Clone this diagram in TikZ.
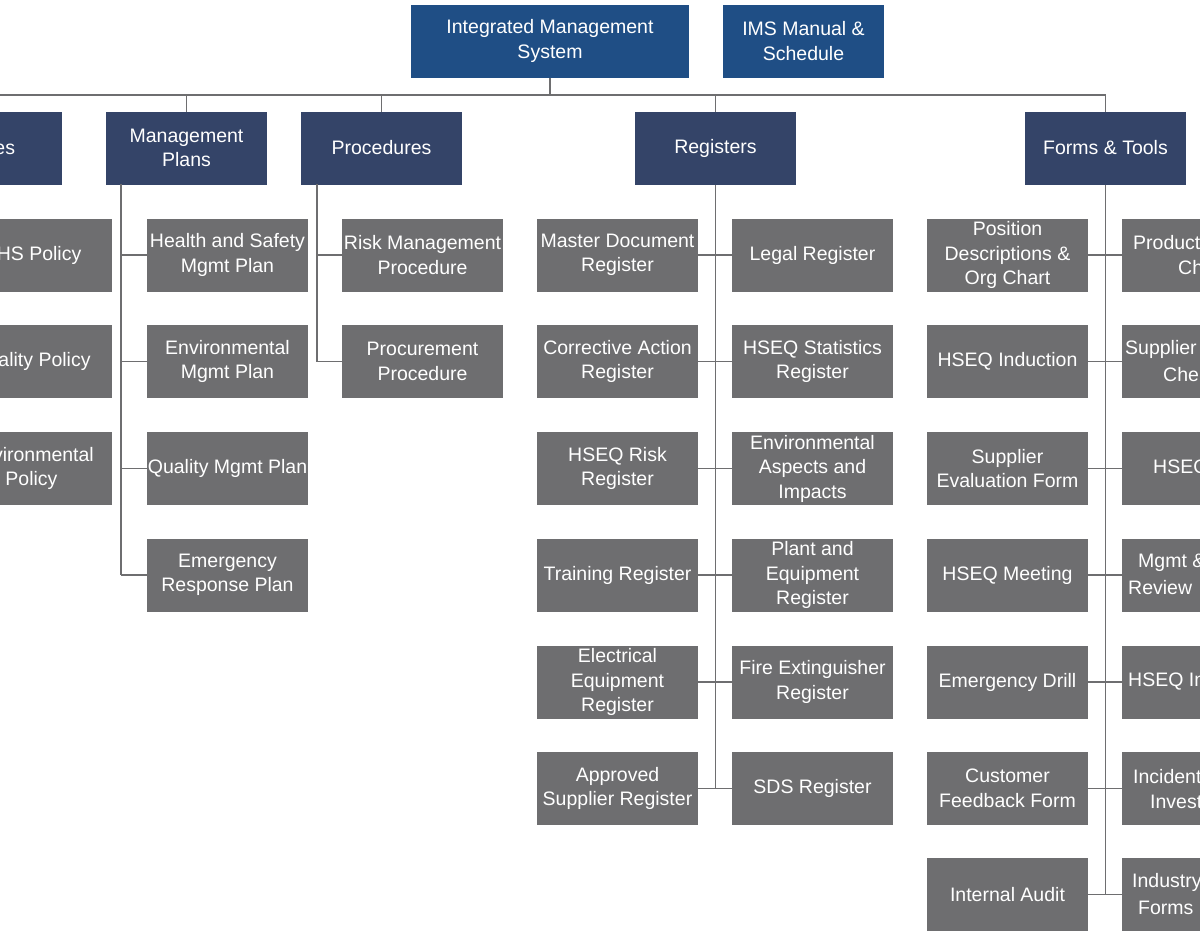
\documentclass[tikz,border=0pt]{standalone}
\usepackage{fontspec}
\setmainfont{Liberation Sans}
\definecolor{topblue}{HTML}{1F4E85}
\definecolor{navy}{HTML}{344468}
\definecolor{boxgray}{HTML}{6E6E70}
\definecolor{linegray}{HTML}{6E6E70}
\begin{document}
\begin{tikzpicture}[x=1pt,y=-1pt,
  base/.style={inner sep=0pt,outer sep=0pt,text=white,align=center,font=\fontsize{19.5}{24.5}\selectfont,minimum height=73pt},
  top/.style={base,fill=topblue},
  head/.style={base,fill=navy,minimum width=161pt},
  item/.style={base,fill=boxgray,minimum width=161pt},
  frag/.style={inner sep=0pt,text=white,anchor=west,font=\fontsize{19.5}{24.5}\selectfont},
  conn/.style={draw=linegray,line width=1.8pt}]
\useasboundingbox (0,0) rectangle (1200,937);
\clip (0,0) rectangle (1200,937);
\fill[white] (0,0) rectangle (1200,937);
% top
\node[top,minimum width=278pt] (ims) at (550,41) {Integrated Management\\System};
\node[top,minimum width=161pt] (man) at (803.5,41) {IMS Manual \&\\Schedule};
% heads
\node[head] (pol) at (-18.5,148) {Policies};
\node[head] (mp) at (186.5,148) {Management\\Plans};
\node[head] (pr) at (381.5,148) {Procedures};
\node[head] (rg) at (715.5,148) {Registers};
\node[head] (ft) at (1105.5,148) {Forms \& Tools};
\coordinate (bus) at (550,95);
\draw[conn] (ims.south) -- (bus);
\draw[conn] (pol.north |- bus) -- (ft.north |- bus);
\foreach \h in {pol,mp,pr,rg,ft} \draw[conn] (\h.north |- bus) -- (\h.north);
% policies
\node[item] (p1) at (31.5,255) {OHS Policy};
\node[item] (p2) at (31.5,361.5) {Quality Policy};
\node[item] (p3) at (31.5,468.5) {Environmental\\Policy};
% mgmt plans
\node[item] (m1) at (227.5,255) {Health and Safety\\Mgmt Plan};
\node[item] (m2) at (227.5,361.5) {Environmental\\Mgmt Plan};
\node[item] (m3) at (227.5,468.5) {Quality Mgmt Plan};
\node[item] (m4) at (227.5,575) {Emergency\\Response Plan};
\draw[conn] (121,184) -- (121,575);
\foreach \n in {m1,m2,m3,m4} \draw[conn] (121,0 |- \n.west) -- (\n.west);
% procedures
\node[item] (r1) at (422.5,255) {Risk Management\\Procedure};
\node[item] (r2) at (422.5,361.5) {Procurement\\Procedure};
\draw[conn] (317,184) -- (317,361.5);
\foreach \n in {r1,r2} \draw[conn] (317,0 |- \n.west) -- (\n.west);
% registers
\node[item] (g1) at (617.5,255) {Master Document\\Register};
\node[item] (g2) at (617.5,361.5) {Corrective Action\\Register};
\node[item] (g3) at (617.5,468.5) {HSEQ Risk\\Register};
\node[item] (g4) at (617.5,575) {Training Register};
\node[item] (g5) at (617.5,682) {Electrical\\Equipment\\Register};
\node[item] (g6) at (617.5,788.5) {Approved\\Supplier Register};
\node[item] (h1) at (812.5,255) {Legal Register};
\node[item] (h2) at (812.5,361.5) {HSEQ Statistics\\Register};
\node[item] (h3) at (812.5,468.5) {Environmental\\Aspects and\\Impacts};
\node[item] (h4) at (812.5,575) {Plant and\\Equipment\\Register};
\node[item] (h5) at (812.5,682) {Fire Extinguisher\\Register};
\node[item] (h6) at (812.5,788.5) {SDS Register};
\draw[conn] (rg.south) -- (715.5,788.5);
\foreach \i in {1,...,6} \draw[conn] (g\i.east) -- (h\i.west);
% forms
\node[item] (f1) at (1007.5,255) {Position\\Descriptions \&\\Org Chart};
\node[item] (f2) at (1007.5,361.5) {HSEQ Induction};
\node[item] (f3) at (1007.5,468.5) {Supplier\\Evaluation Form};
\node[item] (f4) at (1007.5,575) {HSEQ Meeting};
\node[item] (f5) at (1007.5,682) {Emergency Drill};
\node[item] (f6) at (1007.5,788.5) {Customer\\Feedback Form};
\node[item] (f7) at (1007.5,894.5) {Internal Audit};
\foreach \y [count=\i] in {255,361.5,468.5,575,682,788.5,894.5}
  \node[item] (e\i) at (1202.5,\y) {};
\draw[conn] (ft.south) -- (1105.5,894.5);
\foreach \i in {1,...,7} \draw[conn] (f\i.east) -- (e\i.west);
% clipped right column text
\node[frag] (t1a) at (1133,243) {Product};
\node[frag] (t1b) at (1178,268) {Ch};
\node[frag] (t2a) at (1125,349.5) {Supplier};
\node[frag] (t2b) at (1163,374.5) {Che};
\node[frag] (t3a) at (1153,468.5) {HSEQ};
\node[frag] (t4a) at (1138,563) {Mgmt \&};
\node[frag] (t4b) at (1128,588) {Review};
\node[frag] (t5a) at (1128,682) {HSEQ In};
\node[frag] (t6a) at (1133,776.5) {Incident};
\node[frag] (t6b) at (1150,801.5) {Invest};
\node[frag] (t7a) at (1132,882.5) {Industry};
\node[frag] (t7b) at (1138,907.5) {Forms};
\end{tikzpicture}
\end{document}
